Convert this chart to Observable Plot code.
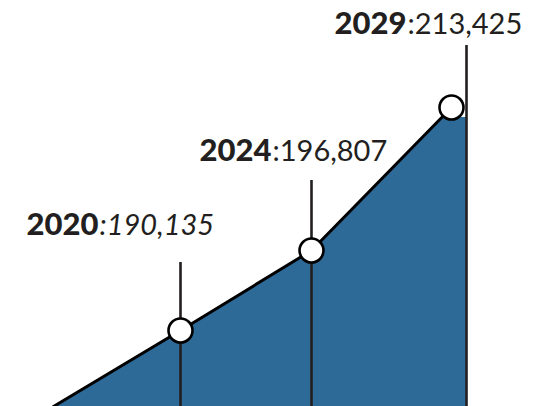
<!DOCTYPE html>
<html>
<head>
<meta charset="utf-8">
<script src="https://cdn.jsdelivr.net/npm/d3@7"></script>
<script src="https://cdn.jsdelivr.net/npm/@observablehq/plot@0.6"></script>
<style>
  html, body { margin: 0; padding: 0; background: #fff; }
  #chart svg { display: block; }
</style>
</head>
<body>
<div id="chart"></div>
<script>
// Data
const years = [2016, 2020, 2024, 2029];
const values = [183800, 190135, 196807, 213425];
const labelYears = [2020, 2024, 2029];
const italicLabel = [true, false, false];

const data = years.map((year, i) => ({year, value: values[i]}));
const labelled = data.filter(d => labelYears.includes(d.year));
const last = data[data.length - 1];
const fmt = d3.format(",");

const blue = "#2e6a97";
const ink = "#231f20";
const font = "Lato, 'Noto Sans', sans-serif";

// per-label layout (offsets from the year's position)
const labelLayout = [
  {dx: -82, dy: 234, ruleTop: 262, ruleDx: 0},
  {dx: -40, dy: 160, ruleTop: 180, ruleDx: 0},
  {dx: -45, dy: 33,  ruleTop: 45,  ruleDx: 15}
];

const marks = [
  Plot.areaY(data, {x: "year", y1: values[0], y2: "value", fill: blue}),
  Plot.rect([last], {x1: "year", x2: "year", y1: values[0], y2: "value", fill: blue, insetTop: 10, insetRight: -15}),
];

labelled.forEach((d, i) => {
  const L = labelLayout[i];
  marks.push(Plot.ruleX([d.year], {stroke: ink, strokeWidth: 2.6, insetTop: L.ruleTop, dx: L.ruleDx}));
});

marks.push(Plot.line(data, {x: "year", y: "value", stroke: "#000", strokeWidth: 3}));
marks.push(Plot.dot(labelled, {x: "year", y: "value", r: 12, fill: "#fff", stroke: "#000", strokeWidth: 2.6}));

labelled.forEach((d, i) => {
  const L = labelLayout[i];
  marks.push(Plot.text([d], {
    x: "year", text: d => String(d.year), frameAnchor: "top", lineAnchor: "bottom",
    textAnchor: "end", dx: L.dx, dy: L.dy, fontSize: 31, fontWeight: 900, fill: ink, fontFamily: font
  }));
  marks.push(Plot.text([d], {
    x: "year", text: d => ":" + fmt(d.value), frameAnchor: "top", lineAnchor: "bottom",
    textAnchor: "start", dx: L.dx + 1, dy: L.dy, fontSize: 29, fontWeight: 400,
    fontStyle: italicLabel[i] ? "italic" : "normal", fill: ink, fontFamily: font
  }));
});

const chart = Plot.plot({
  width: 539,
  height: 406,
  marginTop: 0, marginRight: 0, marginBottom: 0, marginLeft: 0,
  style: {background: "#fff", fontFamily: font, overflow: "hidden"},
  x: {type: "linear", domain: years, range: [53, 180, 311, 451], axis: null},
  y: {type: "linear", domain: values, range: [406, 330, 250, 107], axis: null},
  marks
});
document.getElementById("chart").append(chart);
</script>
</body>
</html>
